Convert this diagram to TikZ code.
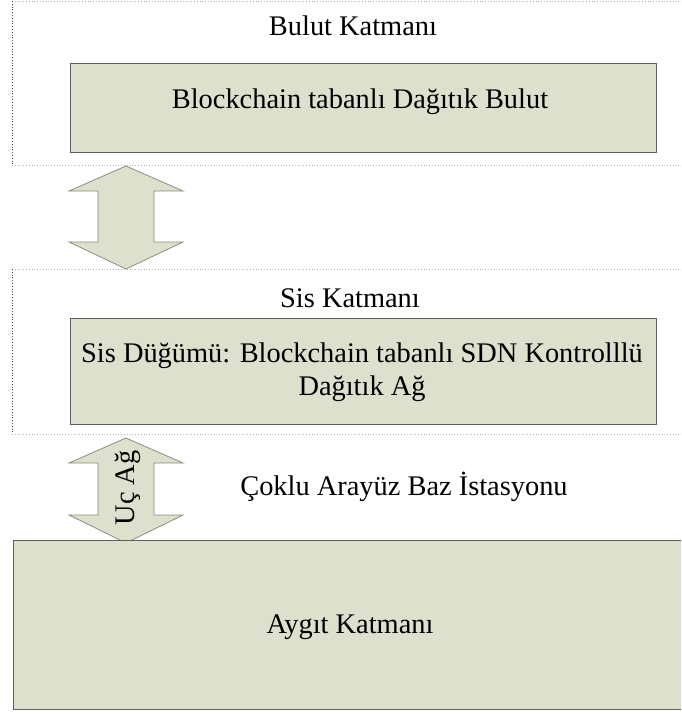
\documentclass[tikz,border=0pt]{standalone}
\usepackage{fontspec}
\setmainfont{Liberation Serif}
\definecolor{boxfill}{RGB}{221,224,204}
\definecolor{boxline}{RGB}{95,95,90}
\definecolor{arrowline}{RGB}{140,140,130}
\definecolor{framedot}{RGB}{180,180,180}
\begin{document}
\begin{tikzpicture}[x=1pt,y=-1pt,
  every node/.style={font=\fontsize{28.4}{34}\selectfont, inner sep=0pt},
  layerbox/.style={draw=boxline, line width=0.9pt, fill=boxfill},
  flowarrow/.style={draw=arrowline, line width=0.8pt, fill=boxfill, line join=miter},
  frameline/.style={draw=framedot, dotted, line width=0.8pt},
  frameedge/.style={draw=black!75, dotted, line width=0.8pt},
  label/.style={anchor=base, align=center}
]
\useasboundingbox (0,0) rectangle (681,715);
\clip (0,0) rectangle (681,715);

% double-headed block arrow: centre x, top tip, upper head base, lower head base, bottom tip
\newcommand\blockarrow[5]{%
  \path[flowarrow] (#1,#2) -- (#1+57,#3) -- (#1+28,#3) -- (#1+28,#4) -- (#1+57,#4)
    -- (#1,#5) -- (#1-57,#4) -- (#1-28,#4) -- (#1-28,#3) -- (#1-57,#3) -- cycle;}

% dotted frames of the cloud and fog layers
\draw[frameline] (12,1) -- (690,1);
\draw[frameline] (12,165) -- (690,165);
\draw[frameedge] (12,1) -- (12,165);
\draw[frameline] (12,269) -- (690,269);
\draw[frameline] (12,434) -- (690,434);
\draw[frameedge] (12,269) -- (12,434);

% cloud layer
\node[label] (cloudtitle) at (353,35) {Bulut Katmanı};
\draw[layerbox] (70,63) rectangle (656,152);
\node[label] (cloud) at (360,108) {Blockchain tabanlı Dağıtık Bulut};

% arrow between cloud and fog
\blockarrow{126}{166}{191}{242}{269}

% fog layer
\node[label] (fogtitle) at (350,307) {Sis Katmanı};
\draw[layerbox] (70,318) rectangle (656,424);
\node[label] (fog1) at (362,362) {Sis Düğümü: Blockchain tabanlı SDN Kontrolllü};
\node[label] (fog2) at (362,395) {Dağıtık Ağ};

% edge network arrow
\blockarrow{126}{438}{463}{515}{543}
\node[rotate=90] (edge) at (128,488) {Uç Ağ};
\node[label] (bs) at (404,495) {Çoklu Arayüz Baz İstasyonu};

% device layer
\draw[layerbox] (13,540) rectangle (690,709);
\node[label] (device) at (350,633) {Aygıt Katmanı};
\end{tikzpicture}
\end{document}
